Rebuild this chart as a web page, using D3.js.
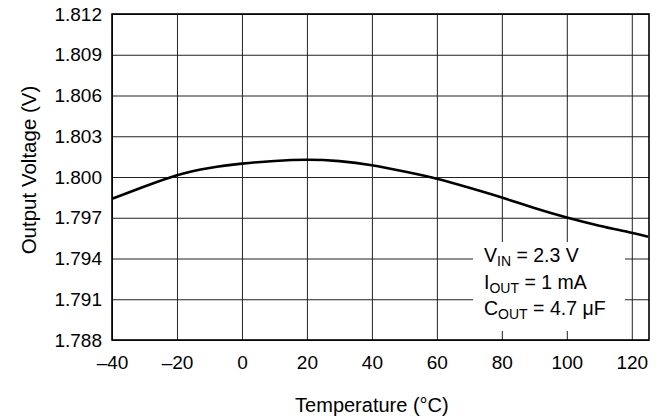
<!DOCTYPE html>
<html>
<head>
<meta charset="utf-8">
<script src="https://cdn.jsdelivr.net/npm/d3@7"></script>
<style>
  body { margin: 0; background: #fff; }
  text { font-family: "Liberation Sans", Arial, Helvetica, sans-serif; fill: #000; }
</style>
</head>
<body>
<div id="chart"></div>
<script>
// temperature (°C) vs output voltage (V)
const temps = [-40, -30, -20, -10, 0, 10, 20, 30, 40, 50, 60, 70, 80, 90, 100, 110, 120, 125];
const vout = [1.7984, 1.7993, 1.8002, 1.8007, 1.8010, 1.8012, 1.8013, 1.8012, 1.8009, 1.8004,
              1.7999, 1.7992, 1.7985, 1.7977, 1.7970, 1.7964, 1.7959, 1.7956];

const xTicks = [-40, -20, 0, 20, 40, 60, 80, 100, 120];
const yTicks = [1.788, 1.791, 1.794, 1.797, 1.800, 1.803, 1.806, 1.809, 1.812];
const noteLines = [["V", "IN", " = 2.3 V"], ["I", "OUT", " = 1 mA"], ["C", "OUT", " = 4.7 \u03BCF"]];

const W = 660, H = 419;
const m = { left: 112, right: 649, top: 14, bottom: 340 };

const svg = d3.select("#chart").append("svg")
    .attr("width", W)
    .attr("height", H);

const x = d3.scaleLinear().domain([-40, 125.3]).range([m.left, m.right]);
const y = d3.scaleLinear().domain([1.788, 1.812]).range([m.bottom, m.top]);

// x axis + vertical grid
const gx = svg.append("g")
    .attr("transform", `translate(0,${m.bottom})`)
    .call(d3.axisBottom(x)
        .tickValues(xTicks)
        .tickSize(-(m.bottom - m.top))
        .tickPadding(16)
        .tickFormat(d => d < 0 ? "\u2013" + Math.abs(d) : d));
gx.select(".domain").remove();
gx.selectAll("line").attr("stroke", "#222").attr("stroke-width", 1);
gx.selectAll("text").style("font-size", "19px");

// y axis + horizontal grid
const gy = svg.append("g")
    .attr("transform", `translate(${m.left},0)`)
    .call(d3.axisLeft(y)
        .tickValues(yTicks)
        .tickSize(-(m.right - m.left))
        .tickPadding(10)
        .tickFormat(d3.format(".3f")));
gy.select(".domain").remove();
gy.selectAll("line").attr("stroke", "#222").attr("stroke-width", 1);
gy.selectAll("text").style("font-size", "19px");

// frame
svg.append("rect")
    .attr("x", m.left)
    .attr("y", m.top)
    .attr("width", m.right - m.left)
    .attr("height", m.bottom - m.top)
    .attr("fill", "none")
    .attr("stroke", "#000")
    .attr("stroke-width", 1.6);

// curve
const line = d3.line()
    .x((d, i) => x(temps[i]))
    .y(d => y(d))
    .curve(d3.curveBasis);

svg.append("path")
    .datum(vout)
    .attr("d", line)
    .attr("fill", "none")
    .attr("stroke", "#000")
    .attr("stroke-width", 2.6);

// conditions box
svg.append("rect")
    .attr("x", 473)
    .attr("y", 242)
    .attr("width", 152)
    .attr("height", 89)
    .attr("fill", "#fff");

noteLines.forEach((l, i) => {
    const t = svg.append("text")
        .attr("x", 484)
        .attr("y", 262 + i * 26.7)
        .style("font-size", "19.5px");
    t.append("tspan").text(l[0]);
    t.append("tspan").attr("dy", 4).style("font-size", "14px").text(l[1]);
    t.append("tspan").attr("dy", -4).text(l[2]);
});

// axis titles
svg.append("text")
    .attr("x", (x(-40) + x(120)) / 2)
    .attr("y", 412)
    .attr("text-anchor", "middle")
    .style("font-size", "20px")
    .text("Temperature (\u00B0C)");

svg.append("text")
    .attr("transform", "translate(36,170) rotate(-90)")
    .attr("text-anchor", "middle")
    .style("font-size", "20.5px")
    .text("Output Voltage (V)");
</script>
</body>
</html>
